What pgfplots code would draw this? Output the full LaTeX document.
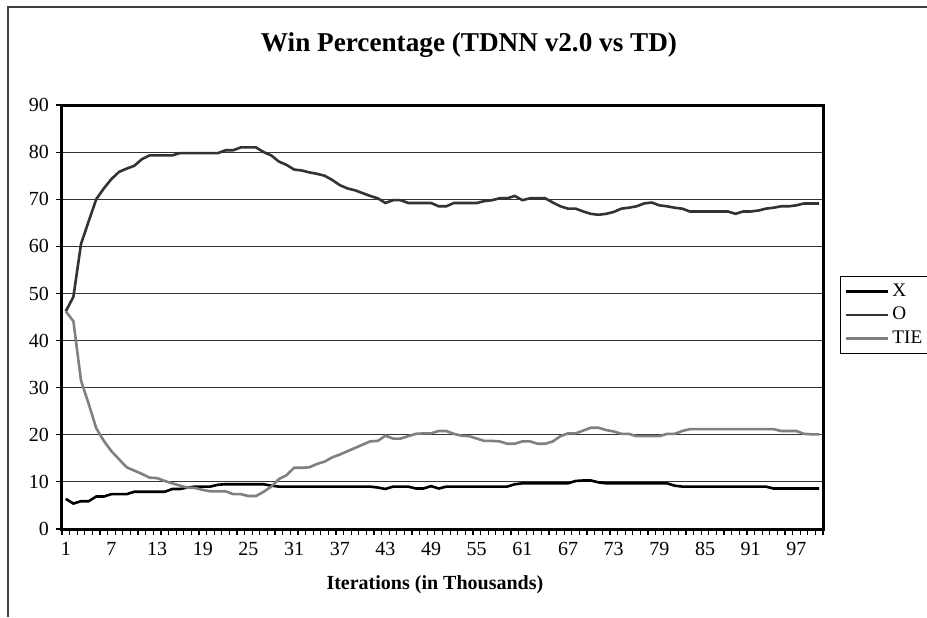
\documentclass[border=0pt]{standalone}
\usepackage{fontspec}
\setmainfont{Liberation Serif}
\usepackage{pgfplots}
\pgfplotsset{compat=1.18}
\usepackage{pgfplotstable}

% win percentages per thousand iterations
\pgfplotstableread{
n X O TIE
1 6.4 46.2 46.2
2 5.4 49.3 44.1
3 5.9 60.5 31.5
4 5.9 65.3 26.6
5 6.9 70.0 21.4
6 6.9 72.3 18.7
7 7.4 74.3 16.5
8 7.4 75.8 14.8
9 7.4 76.5 13.1
10 7.9 77.1 12.4
11 7.9 78.5 11.7
12 7.9 79.3 10.9
13 7.9 79.3 10.8
14 7.9 79.3 10.2
15 8.5 79.3 9.7
16 8.5 79.8 9.2
17 8.8 79.8 8.8
18 9.0 79.8 8.7
19 9.0 79.8 8.3
20 9.0 79.8 8.0
21 9.4 79.8 8.0
22 9.5 80.4 8.0
23 9.5 80.4 7.4
24 9.5 81.0 7.4
25 9.5 81.0 7.0
26 9.5 81.0 7.0
27 9.5 80.0 7.9
28 9.2 79.3 9.0
29 9.0 78.0 10.6
30 9.0 77.3 11.4
31 9.0 76.3 13.0
32 9.0 76.1 13.0
33 9.0 75.7 13.1
34 9.0 75.4 13.8
35 9.0 75.0 14.3
36 9.0 74.1 15.2
37 9.0 73.0 15.8
38 9.0 72.3 16.5
39 9.0 71.9 17.2
40 9.0 71.3 17.9
41 9.0 70.7 18.6
42 8.8 70.2 18.7
43 8.5 69.2 19.8
44 9.0 69.8 19.2
45 9.0 69.8 19.2
46 9.0 69.2 19.7
47 8.6 69.2 20.2
48 8.6 69.2 20.3
49 9.1 69.2 20.3
50 8.6 68.5 20.8
51 9.0 68.5 20.8
52 9.0 69.2 20.2
53 9.0 69.2 19.8
54 9.0 69.2 19.7
55 9.0 69.2 19.2
56 9.0 69.6 18.7
57 9.0 69.8 18.7
58 9.0 70.2 18.6
59 9.0 70.2 18.1
60 9.5 70.7 18.1
61 9.7 69.8 18.6
62 9.7 70.2 18.6
63 9.7 70.2 18.1
64 9.7 70.2 18.1
65 9.7 69.3 18.6
66 9.7 68.5 19.7
67 9.7 68.0 20.3
68 10.2 68.0 20.3
69 10.3 67.4 20.9
70 10.3 66.9 21.5
71 9.9 66.7 21.5
72 9.7 66.9 21.0
73 9.7 67.3 20.7
74 9.7 68.0 20.2
75 9.7 68.2 20.2
76 9.7 68.5 19.7
77 9.7 69.1 19.7
78 9.7 69.3 19.7
79 9.7 68.7 19.7
80 9.7 68.5 20.2
81 9.2 68.2 20.2
82 9.0 68.0 20.8
83 9.0 67.4 21.2
84 9.0 67.4 21.2
85 9.0 67.4 21.2
86 9.0 67.4 21.2
87 9.0 67.4 21.2
88 9.0 67.4 21.2
89 9.0 66.9 21.2
90 9.0 67.4 21.2
91 9.0 67.4 21.2
92 9.0 67.6 21.2
93 9.0 68.0 21.2
94 8.6 68.2 21.2
95 8.6 68.5 20.8
96 8.6 68.5 20.8
97 8.6 68.7 20.8
98 8.6 69.1 20.2
99 8.6 69.1 20.1
100 8.6 69.1 20.1
}\winpct

\definecolor{oline}{RGB}{51,51,51}
\definecolor{tieline}{RGB}{128,128,128}

\begin{document}
\begin{tikzpicture}
\useasboundingbox (-31pt,-44pt) rectangle (432.5pt,264.5pt);
% chart frame (cut off at right and bottom)
\draw[black!75, line width=0.9pt] (-27pt,-44pt) -- (-27pt,261pt) -- (432.5pt,261pt);
\begin{axis}[
    at={(0,0)}, anchor=south west,
    scale only axis, width=380.5pt, height=212pt,
    xmin=0.5, xmax=100.5, ymin=0, ymax=90,
    xtick={1,7,...,97},
    major x tick style={draw=none},
    minor xtick={0.5,1.5,...,100.5},
    ytick={0,10,...,90},
    tick align=outside, tick pos=left,
    major tick length=3pt, minor tick length=3pt,
    tick style={black, line width=0.6pt},
    ymajorgrids,
    grid style={black!80, line width=0.5pt},
    axis line style={line width=1.5pt},
    /pgf/number format/assume math mode=true,
    ticklabel style={font=\fontsize{10}{11}\selectfont},
    xlabel={Iterations (in Thousands)},
    xlabel style={at={(axis description cs:0.49,0)}, anchor=center, yshift=-28pt,
        font=\fontsize{10}{12}\selectfont\bfseries},
    legend style={at={(1.0223,0.4127)}, anchor=south west, draw=black,
        line width=0.5pt, font=\fontsize{9.6}{10}\selectfont,
        inner ysep=1.5pt, inner xsep=3pt, row sep=0pt, cells={anchor=west}},
    legend image code/.code={\fill[#1, draw=none] (0pt,-0.7pt) rectangle (21pt,0.7pt);},
    every axis plot/.append style={line width=1.3pt, mark=none},
]
\addplot[black] table[x=n, y=X] {\winpct};
\addplot[oline] table[x=n, y=O] {\winpct};
\addplot[tieline] table[x=n, y=TIE] {\winpct};
\legend{X, O, TIE}
\end{axis}
\node[font=\fontsize{13.6}{15}\selectfont\bfseries] at (203.5pt,242pt)
    {Win Percentage (TDNN v2.0 vs TD)};
\end{tikzpicture}
\end{document}
